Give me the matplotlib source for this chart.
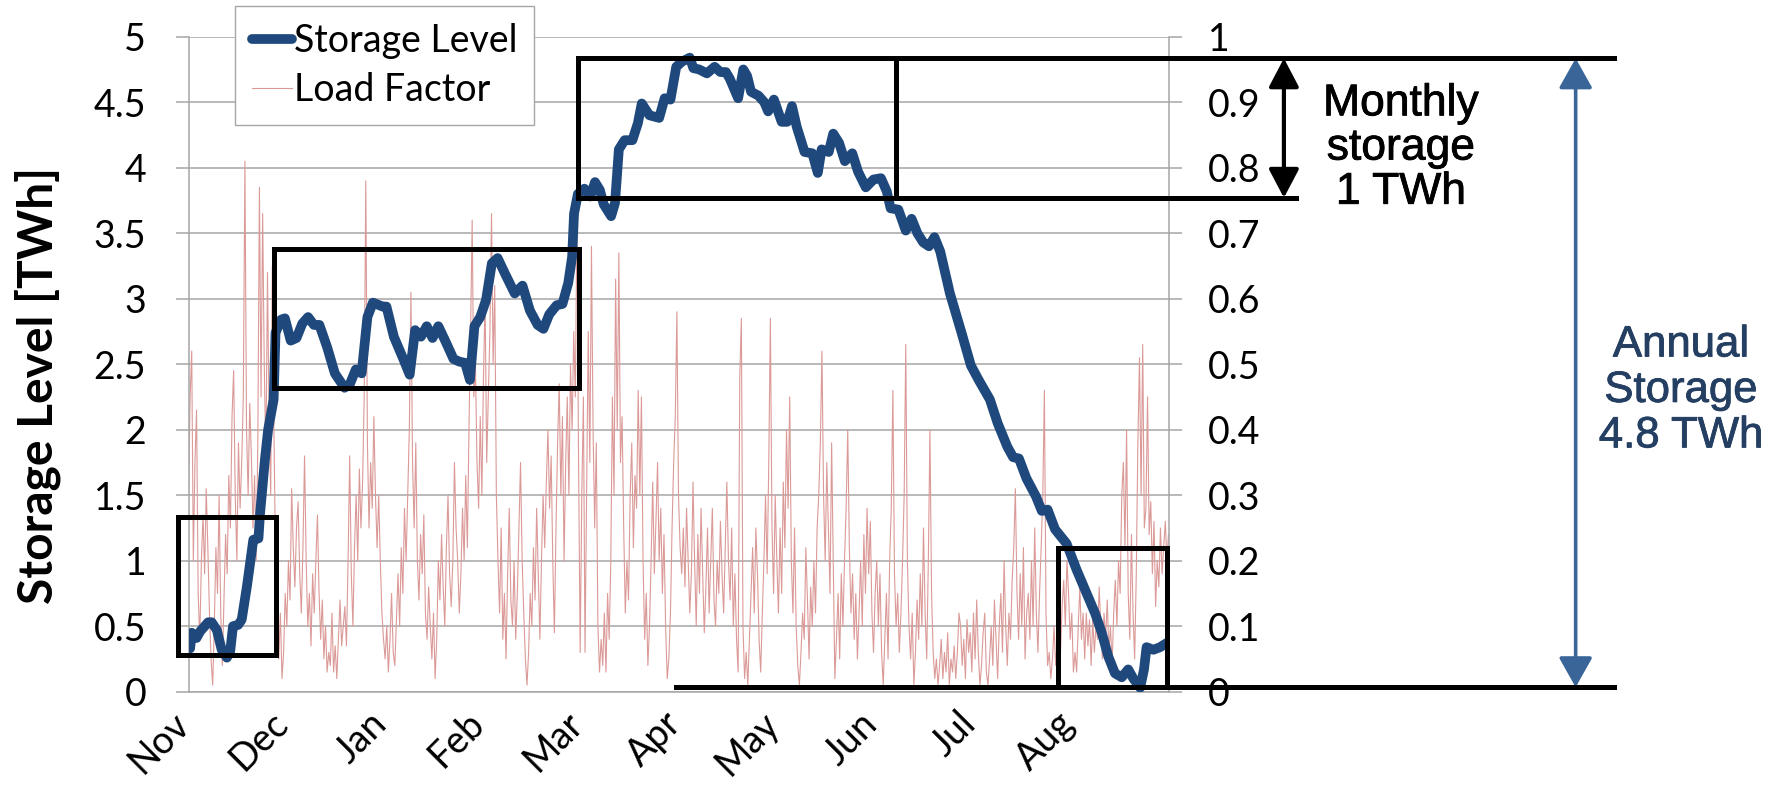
import matplotlib
matplotlib.use('Agg')
import matplotlib.pyplot as plt
import matplotlib.patheffects as pe
import numpy as np
from matplotlib.patches import Rectangle

plt.rcParams['font.family'] = ['Lato', 'DejaVu Sans']

# ---- data ----
month_labels = ['Nov', 'Dec', 'Jan', 'Feb', 'Mar', 'Apr', 'May', 'Jun', 'Jul', 'Aug']

# storage level trace: day since 1 Nov -> TWh
storage_day = [
    0.5, 1.0, 2.5, 3.6, 6.1, 7.2, 8.8, 10.3, 11.9, 12.9, 13.8, 15.4, 16.5, 18.1,
    19.6, 20.1, 21.7, 22.2, 23.7, 24.7, 26.4, 27.0, 28.7, 29.9, 31.7, 33.5, 35.3,
    37.1, 38.9, 40.6, 43.0, 45.4, 48.4, 50.1, 51.9, 53.7, 55.5, 57.2, 60.2, 61.4,
    63.7, 66.8, 68.6, 70.3, 72.1, 73.9, 75.7, 77.5, 79.8, 82.2, 84.0, 85.8, 87.3,
    88.7, 90.5, 92.3, 94.1, 95.9, 98.2, 101.2, 103.6, 105.9, 108.3, 110.1, 111.9,
    114.2, 116.0, 117.8, 119.0, 119.6, 120.8, 122.8, 124.6, 126.1, 127.6, 128.8,
    131.1, 132.3, 133.5, 135.3, 137.7, 139.4, 140.6, 143.0, 146.0, 147.7, 149.5,
    151.3, 153.1, 155.5, 156.6, 158.4, 160.8, 163.2, 165.0, 166.7, 167.9, 170.5,
    172.1, 173.3, 174.5, 176.8, 178.6, 179.8, 181.6, 184.0, 185.7, 187.2, 188.7,
    191.1, 193.5, 195.2, 196.4, 198.6, 200.0, 201.8, 203.6, 205.9, 207.7, 210.1,
    212.5, 214.8, 216.6, 217.8, 220.2, 222.5, 224.3, 226.1, 227.9, 229.7, 231.4,
    233.2, 236.2, 239.8, 242.7, 245.1, 248.6, 251.0, 254.0, 255.8, 257.6, 259.9,
    262.9, 264.7, 266.5, 268.8, 272.4, 275.5, 278.6, 281.2, 283.3, 285.3, 287.4,
    289.5, 291.5, 293.1, 295.2, 296.4, 297.2, 299.3, 301.4, 304.0,
]
storage_twh = [
    0.33, 0.45, 0.41, 0.46, 0.53, 0.53, 0.47, 0.32, 0.26, 0.30, 0.50, 0.51, 0.55, 0.80,
    1.07, 1.16, 1.17, 1.36, 1.77, 2.00, 2.23, 2.74, 2.84, 2.85, 2.68, 2.70, 2.81,
    2.86, 2.80, 2.80, 2.63, 2.43, 2.32, 2.35, 2.46, 2.43, 2.86, 2.97, 2.94, 2.94,
    2.71, 2.53, 2.42, 2.76, 2.71, 2.79, 2.70, 2.79, 2.67, 2.54, 2.52, 2.51, 2.38,
    2.79, 2.86, 2.99, 3.27, 3.31, 3.19, 3.04, 3.10, 2.91, 2.80, 2.77, 2.88,
    2.95, 2.96, 3.12, 3.32, 3.65, 3.80, 3.84, 3.78, 3.89, 3.83, 3.72,
    3.63, 3.73, 4.14, 4.21, 4.21, 4.34, 4.49, 4.40, 4.38, 4.53, 4.52,
    4.77, 4.81, 4.84, 4.76, 4.75, 4.72, 4.77, 4.73, 4.73, 4.68, 4.53,
    4.75, 4.70, 4.58, 4.55, 4.50, 4.43, 4.52, 4.35, 4.35, 4.47, 4.31,
    4.12, 4.11, 3.96, 4.14, 4.12, 4.26, 4.19, 4.05, 4.11, 3.97, 3.85,
    3.91, 3.92, 3.82, 3.69, 3.68, 3.52, 3.61, 3.50, 3.43, 3.40, 3.47,
    3.36, 3.04, 2.74, 2.49, 2.38, 2.23, 2.05, 1.87, 1.79, 1.78, 1.63,
    1.49, 1.38, 1.39, 1.24, 1.13, 0.93, 0.75, 0.60, 0.45, 0.27, 0.14,
    0.11, 0.17, 0.10, 0.03, 0.17, 0.34, 0.32, 0.34, 0.38,
]

# load factor, two readings per day from 1 Nov
load_factor = [
    # Nov
    0.30, 0.45, 0.52, 0.20, 0.35, 0.43, 0.15, 0.08, 0.20, 0.27, 0.18, 0.31, 0.22, 0.12, 0.05, 0.01,
    0.10, 0.22, 0.15, 0.30, 0.12, 0.04, 0.14, 0.24, 0.18, 0.33, 0.25, 0.42, 0.49, 0.30, 0.20, 0.38,
    0.28, 0.35, 0.45, 0.81, 0.40, 0.30, 0.44, 0.36, 0.25, 0.33, 0.20, 0.38, 0.77, 0.45, 0.73, 0.50,
    0.35, 0.64, 0.42, 0.30, 0.65, 0.40, 0.20, 0.09, 0.05, 0.12, 0.02, 0.06, 0.15,
    # Dec
    0.10, 0.20, 0.14, 0.31, 0.22, 0.16, 0.25, 0.29, 0.18, 0.12, 0.22, 0.36, 0.20, 0.10, 0.15, 0.07,
    0.18, 0.12, 0.20, 0.27, 0.15, 0.08, 0.14, 0.05, 0.10, 0.03, 0.06, 0.04, 0.12, 0.03, 0.07, 0.02,
    0.08, 0.14, 0.07, 0.10, 0.13, 0.07, 0.20, 0.36, 0.18, 0.10, 0.22, 0.30, 0.20, 0.34, 0.25, 0.32,
    0.45, 0.78, 0.38, 0.25, 0.35, 0.28, 0.42, 0.30, 0.22, 0.30, 0.20, 0.12, 0.08,
    # Jan
    0.05, 0.10, 0.03, 0.08, 0.15, 0.06, 0.04, 0.11, 0.18, 0.10, 0.22, 0.15, 0.28, 0.20, 0.30, 0.40,
    0.61, 0.35, 0.25, 0.38, 0.20, 0.14, 0.24, 0.18, 0.27, 0.12, 0.08, 0.16, 0.10, 0.05, 0.12, 0.02,
    0.08, 0.20, 0.14, 0.24, 0.16, 0.10, 0.22, 0.30, 0.18, 0.13, 0.20, 0.35, 0.25, 0.20, 0.12, 0.18,
    0.28, 0.20, 0.33, 0.22, 0.40, 0.55, 0.72, 0.45, 0.50, 0.35, 0.28, 0.42, 0.30,
    # Feb
    0.48, 0.60, 0.35, 0.45, 0.55, 0.73, 0.50, 0.62, 0.30, 0.20, 0.12, 0.25, 0.08, 0.15, 0.05, 0.18,
    0.28, 0.14, 0.10, 0.20, 0.08, 0.15, 0.25, 0.35, 0.20, 0.12, 0.05, 0.01, 0.06, 0.15, 0.10, 0.22,
    0.14, 0.28, 0.18, 0.08, 0.20, 0.30, 0.22, 0.32, 0.40, 0.28, 0.36, 0.20, 0.09, 0.25, 0.38, 0.47,
    0.30, 0.42, 0.20, 0.35, 0.45, 0.30, 0.50, 0.40, 0.55, 0.45, 0.73, 0.35, 0.06,
    # Mar
    0.30, 0.45, 0.06, 0.30, 0.55, 0.35, 0.68, 0.40, 0.25, 0.38, 0.10, 0.03, 0.08, 0.04, 0.12, 0.03,
    0.15, 0.08, 0.20, 0.45, 0.30, 0.63, 0.40, 0.67, 0.35, 0.42, 0.25, 0.12, 0.20, 0.14, 0.30, 0.38,
    0.22, 0.33, 0.28, 0.46, 0.30, 0.45, 0.20, 0.08, 0.15, 0.04, 0.10, 0.20, 0.32, 0.18, 0.26, 0.35,
    0.20, 0.28, 0.15, 0.24, 0.10, 0.02, 0.05, 0.12, 0.25, 0.35, 0.42, 0.58, 0.30,
    # Apr
    0.22, 0.18, 0.25, 0.16, 0.28, 0.20, 0.12, 0.18, 0.32, 0.20, 0.10, 0.24, 0.15, 0.28, 0.18, 0.09,
    0.16, 0.25, 0.12, 0.20, 0.28, 0.14, 0.10, 0.20, 0.15, 0.26, 0.18, 0.12, 0.22, 0.32, 0.20, 0.14,
    0.25, 0.10, 0.18, 0.08, 0.03, 0.48, 0.57, 0.10, 0.02, 0.06, 0.01, 0.08, 0.15, 0.22, 0.12, 0.25,
    0.18, 0.08, 0.03, 0.12, 0.20, 0.30, 0.18, 0.35, 0.57, 0.25, 0.15, 0.30, 0.20,
    # May
    0.12, 0.25, 0.15, 0.32, 0.22, 0.40, 0.28, 0.45, 0.20, 0.12, 0.25, 0.10, 0.04, 0.01, 0.06, 0.12,
    0.08, 0.22, 0.14, 0.05, 0.16, 0.10, 0.20, 0.12, 0.25, 0.30, 0.38, 0.52, 0.30, 0.20, 0.35, 0.25,
    0.15, 0.38, 0.20, 0.02, 0.08, 0.15, 0.05, 0.18, 0.10, 0.20, 0.28, 0.40, 0.22, 0.12, 0.18, 0.08,
    0.15, 0.05, 0.12, 0.20, 0.10, 0.24, 0.15, 0.28, 0.18, 0.26, 0.12, 0.06, 0.15,
    # Jun
    0.20, 0.10, 0.18, 0.06, 0.01, 0.08, 0.15, 0.05, 0.20, 0.28, 0.46, 0.18, 0.10, 0.15, 0.06, 0.12,
    0.20, 0.30, 0.53, 0.20, 0.10, 0.05, 0.12, 0.01, 0.06, 0.14, 0.08, 0.18, 0.10, 0.25, 0.12, 0.05,
    0.20, 0.40, 0.15, 0.06, 0.02, 0.05, 0.01, 0.04, 0.08, 0.02, 0.06, 0.03, 0.09, 0.01, 0.05, 0.03,
    0.07, 0.02, 0.06, 0.12, 0.10, 0.04, 0.08, 0.02, 0.11, 0.06, 0.09, 0.03, 0.12,
    # Jul
    0.05, 0.14, 0.06, 0.01, 0.04, 0.09, 0.12, 0.03, 0.01, 0.05, 0.10, 0.04, 0.14, 0.08, 0.02, 0.10,
    0.15, 0.06, 0.20, 0.10, 0.04, 0.12, 0.08, 0.17, 0.22, 0.31, 0.15, 0.08, 0.18, 0.10, 0.22, 0.05,
    0.12, 0.15, 0.08, 0.20, 0.10, 0.25, 0.12, 0.06, 0.15, 0.22, 0.30, 0.46, 0.12, 0.04, 0.06, 0.02,
    0.05, 0.10, 0.04, 0.08, 0.12, 0.06, 0.13, 0.17, 0.10, 0.20, 0.15, 0.08, 0.12,
    # Aug
    0.03, 0.06, 0.03, 0.10, 0.16, 0.08, 0.12, 0.05, 0.12, 0.07, 0.11, 0.04, 0.11, 0.06, 0.10, 0.08,
    0.16, 0.10, 0.05, 0.12, 0.08, 0.14, 0.06, 0.10, 0.04, 0.12, 0.17, 0.10, 0.20, 0.15, 0.30, 0.35,
    0.22, 0.40, 0.15, 0.08, 0.24, 0.12, 0.05, 0.18, 0.38, 0.51, 0.30, 0.53, 0.25, 0.28, 0.45, 0.24,
    0.29, 0.18, 0.26, 0.13, 0.20, 0.16, 0.25, 0.18, 0.22, 0.26, 0.20, 0.24,
]
lf_day = np.arange(len(load_factor)) * 0.5

# ---- figure ----
W, H = 1775, 788
fig = plt.figure(figsize=(W / 100, H / 100), dpi=100)
ax = fig.add_axes([188.5 / W, 1 - 691.7 / H, 980 / W, 655 / H])
ax2 = ax.twinx()
ax.set_zorder(ax2.get_zorder() + 1)
ax.patch.set_visible(False)

grid_col = '#A6A6A6'
lf_line, = ax2.plot(lf_day, load_factor, color='#DB9A98', lw=0.8)
st_line, = ax.plot(storage_day, storage_twh, color='#1F497D', lw=7,
                   solid_joinstyle='round', solid_capstyle='round', zorder=3)

ax.set_xlim(0, 304)
ax.set_ylim(0, 5)
ax2.set_ylim(0, 1)

left_ticks = np.arange(0, 5.01, 0.5)
right_ticks = np.round(np.arange(0, 1.001, 0.1), 1)
ax.set_yticks(left_ticks, [f'{v:g}' for v in left_ticks])
ax2.set_yticks(right_ticks, [f'{v:g}' for v in right_ticks])
ax2.yaxis.grid(True, color=grid_col, lw=1.1)
ax2.set_axisbelow(True)

ax.tick_params(axis='y', direction='out', length=9.5, width=1.1, color=grid_col,
               labelsize=27, pad=21)
ax2.tick_params(axis='y', direction='out', length=9.5, width=1.1, color=grid_col,
                labelsize=27, pad=19)

tick_days = 1.1 + 30.48 * np.arange(len(month_labels))
ax.set_xticks(tick_days)
ax.set_xticklabels(month_labels, rotation=45, ha='right', va='baseline',
                   rotation_mode='anchor')
ax.tick_params(axis='x', length=0, pad=24.5, labelsize=27)

for s in ['top', 'right', 'bottom']:
    ax.spines[s].set_visible(False)
ax.spines['left'].set_color(grid_col)
ax.spines['left'].set_linewidth(1.1)
for s in ['top', 'left']:
    ax2.spines[s].set_visible(False)
for s in ['right', 'bottom']:
    ax2.spines[s].set_color(grid_col)
    ax2.spines[s].set_linewidth(1.1)

fig.text(38 / W, 1 - 385 / H, 'Storage Level [TWh]', rotation=90, ha='center',
         va='center', fontsize=34.5, fontweight='bold')

leg = ax.legend([st_line, lf_line], ['Storage Level', 'Load Factor'],
                loc='upper left', bbox_to_anchor=(235 / W, 1 - 6 / H),
                bbox_transform=fig.transFigure, borderaxespad=0, fontsize=27,
                handlelength=1.07, handletextpad=0.05, labelspacing=0.35,
                borderpad=0.45, fancybox=False, framealpha=1)
leg.get_frame().set_edgecolor(grid_col)
leg.get_frame().set_linewidth(1.0)
leg.set_zorder(10)

# ---- annotation boxes and lines ----
box_lw = 3.6
boxes = [(-3.26, 0.28, 27.14, 1.336), (26.52, 2.32, 121.13, 3.38),
         (120.8, 3.77, 219.5, 4.835), (269.7, 0.036, 303.5, 1.097)]
for x0, y0, x1, y1 in boxes:
    ax.add_patch(Rectangle((x0, y0), x1 - x0, y1 - y0, fill=False, ec='black',
                           lw=box_lw, clip_on=False, zorder=5))
ax.plot([219.5, 442.1], [4.835, 4.835], color='black', lw=box_lw, clip_on=False, zorder=5)
ax.plot([219.5, 343.5], [3.77, 3.77], color='black', lw=box_lw, clip_on=False, zorder=5)
ax.plot([151.2, 442.1], [0.034, 0.034], color='black', lw=box_lw, clip_on=False, zorder=5)

ax.annotate('', xy=(339.8, 4.835), xytext=(339.8, 3.77), annotation_clip=False,
            arrowprops=dict(arrowstyle='<|-|>,head_length=0.8,head_width=0.42',
                            mutation_scale=22, lw=3, color='black',
                            shrinkA=0, shrinkB=0))
ax.annotate('', xy=(430.3, 4.835), xytext=(430.3, 0.034), annotation_clip=False,
            arrowprops=dict(arrowstyle='<|-|>,head_length=0.8,head_width=0.45',
                            mutation_scale=23, lw=2.6, color='#3A6599',
                            shrinkA=0, shrinkB=0))

ax.text(376.1, 4.15, 'Monthly\nstorage\n1 TWh', ha='center', va='center',
        fontsize=32, family='Liberation Sans', linespacing=1.1, clip_on=False,
        path_effects=[pe.withStroke(linewidth=0.6, foreground='black')])
ax.text(463.0, 2.30, 'Annual\nStorage\n4.8 TWh', ha='center', va='center',
        fontsize=31.5, family='Liberation Sans', color='#243F62', linespacing=1.14,
        clip_on=False,
        path_effects=[pe.withStroke(linewidth=0.6, foreground='#243F62')])

fig.savefig('out.png', dpi=100)
